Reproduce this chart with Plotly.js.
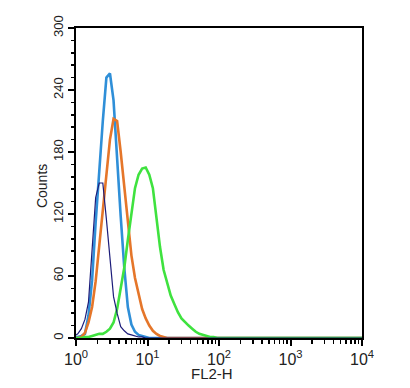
<!DOCTYPE html>
<html>
<head>
<meta charset="utf-8">
<script src="https://cdn.plot.ly/plotly-3.0.1.min.js"></script>
<style>html,body{margin:0;padding:0;background:#fff;}#chart{width:410px;height:388px;}</style>
</head>
<body>
<div id="chart"></div>
<script>
// FL2-H channel bin centres (log spaced); last point closes the baseline at 10^4
const fl2Bins = [1.000, 1.059, 1.189, 1.334, 1.496, 1.679, 1.884, 2.113, 2.371, 2.661,
  2.985, 3.350, 3.758, 4.217, 4.732, 5.309, 5.957, 6.683, 7.499, 8.414,
  9.441, 10.59, 11.89, 13.34, 14.96, 16.79, 18.84, 21.13, 23.71, 26.61,
  29.85, 33.50, 37.58, 42.17, 47.32, 53.09, 59.57, 66.83, 74.99, 84.14,
  94.41, 10000];

const countsNavy = [3, 4, 9, 18, 35, 84, 136, 150, 150, 115,
  74, 40, 24, 11, 7, 4, 3, 2, 1, 1,
  0, 0, 0, 0, 0, 0, 0, 0, 0, 0,
  0, 0, 0, 0, 0, 0, 0, 0, 0, 0,
  0, 0];
const countsBlue = [1, 1, 2, 4, 22, 56, 112, 164, 210, 252,
  256, 230, 172, 118, 68, 30, 13, 6, 3, 2,
  1, 0, 0, 0, 0, 0, 0, 0, 0, 0,
  0, 0, 0, 0, 0, 0, 0, 0, 0, 0,
  0, 0];
const countsOrange = [0, 0, 1, 5, 15, 30, 55, 90, 125, 158,
  192, 212, 210, 180, 148, 110, 80, 58, 42, 28,
  19, 12, 7, 4, 2, 1, 0, 0, 0, 0,
  0, 0, 0, 0, 0, 0, 0, 0, 0, 0,
  0, 0];
const countsGreen = [0, 0, 0, 1, 1, 2, 3, 4, 4, 6,
  9, 15, 28, 47, 68, 95, 122, 145, 158, 164,
  165, 158, 145, 115, 88, 66, 53, 41, 33, 25,
  19, 15, 12, 9, 6, 4, 3, 2, 1, 1,
  0, 0];

const xTickVals = [1, 10, 100, 1000, 10000];
const xTickText = ['10<sup>0</sup>', '10<sup>1</sup>', '10<sup>2</sup>', '10<sup>3</sup>', '10<sup>4</sup>'];
const xMinorVals = [2,3,4,5,6,7,8,9,20,30,40,50,60,70,80,90,200,300,400,500,600,700,800,900,2000,3000,4000,5000,6000,7000,8000,9000];
const yTickVals = [0, 60, 120, 180, 240, 300];
const xTitle = 'FL2-H';
const yTitle = 'Counts';

function hist(y, color, width) {
  return {x: fl2Bins, y: y, type: 'scatter', mode: 'lines',
    line: {shape: 'linear', color: color, width: width}, hoverinfo: 'skip', showlegend: false};
}

const traces = [
  hist(countsBlue, '#2f8fd8', 2.6),
  hist(countsOrange, '#e5762a', 2.6),
  hist(countsGreen, '#3fe23f', 2.6),
  hist(countsNavy, '#1c1c7a', 1.2)
];

const layout = {
  width: 410, height: 388,
  margin: {l: 76, r: 48, t: 28, b: 50},
  paper_bgcolor: '#fff', plot_bgcolor: '#fff',
  showlegend: false,
  xaxis: {
    type: 'log', range: [0, 4],
    tickmode: 'array', tickvals: xTickVals, ticktext: xTickText,
    ticks: 'outside', ticklen: 6, tickwidth: 2, tickcolor: '#000',
    showline: true, linecolor: '#000', linewidth: 2, mirror: true,
    showgrid: false, zeroline: false,
    tickfont: {family: 'Liberation Sans Narrow, Liberation Sans, Arial', size: 16, color: '#222'},
    minor: {tickmode: 'array', tickvals: xMinorVals, ticks: 'outside', ticklen: 4, tickwidth: 1.5, tickcolor: '#000', showgrid: false}
  },
  yaxis: {
    range: [0, 300],
    tickmode: 'array', tickvals: yTickVals,
    tickangle: -90,
    ticks: 'outside', ticklen: 6, tickwidth: 2, tickcolor: '#000',
    showline: true, linecolor: '#000', linewidth: 2, mirror: true,
    showgrid: false, zeroline: false,
    tickfont: {family: 'Liberation Sans, Arial', size: 13, color: '#222'},
    minor: {tickmode: 'linear', tick0: 0, dtick: 12, ticks: 'outside', ticklen: 3.5, tickwidth: 1.5, tickcolor: '#000', showgrid: false}
  },
  annotations: [
    {text: xTitle, xref: 'paper', yref: 'paper', x: 0.476, y: -0.113, xanchor: 'center', yanchor: 'middle',
      showarrow: false, font: {family: 'Liberation Sans Narrow, Liberation Sans, Arial', size: 15, color: '#222'}},
    {text: yTitle, xref: 'paper', yref: 'paper', x: -0.119, y: 0.49, xanchor: 'center', yanchor: 'middle',
      textangle: -90, showarrow: false, font: {family: 'Liberation Sans, Arial', size: 14, color: '#222'}}
  ]
};

Plotly.newPlot('chart', traces, layout, {staticPlot: true, displayModeBar: false});
</script>
</body>
</html>
